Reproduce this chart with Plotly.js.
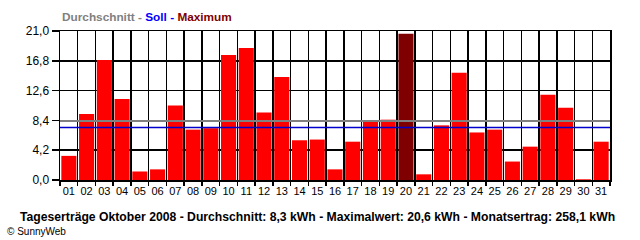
<!DOCTYPE html>
<html>
<head>
<meta charset="utf-8">
<script src="https://cdn.plot.ly/plotly-3.0.1.min.js"></script>
<style>html,body{margin:0;padding:0;background:#fff;}#chart{width:640px;height:240px;}</style>
</head>
<body>
<div id="chart"></div>
<script>
const days = ["01","02","03","04","05","06","07","08","09","10","11","12","13","14","15","16","17","18","19","20","21","22","23","24","25","26","27","28","29","30","31"];
const yields = [3.4,9.3,16.9,11.4,1.2,1.5,10.5,7.1,7.3,17.6,18.6,9.5,14.5,5.6,5.7,1.5,5.4,8.4,8.5,20.6,0.8,7.7,15.1,6.7,7.1,2.6,4.7,12.0,10.2,0.1,5.4];
const average = 8.3;
const target = 7.4;
const yTicks = [0, 4.2, 8.4, 12.6, 16.8, 21.0];
const titleText = "Tageserträge Oktober 2008 - Durchschnitt: 8,3 kWh - Maximalwert: 20,6 kWh - Monatsertrag: 258,1 kWh";

const maxVal = Math.max(...yields);
const colors = yields.map(v => v === maxVal ? "#7f0000" : "#ff0000");

const font = "Liberation Sans, Arial, sans-serif";

const data = [{
  type: "bar",
  x: days,
  y: yields,
  marker: {color: colors, line: {width: 0}},
  hoverinfo: "x+y"
}];

const layout = {
  width: 640, height: 240,
  margin: {l: 60, r: 30, t: 30.5, b: 59.5},
  paper_bgcolor: "#ffffff",
  plot_bgcolor: "#ffffff",
  separators: ",.",
  bargap: 0.15,
  showlegend: false,
  font: {family: font, size: 11, color: "#000"},
  xaxis: {
    type: "category",
    tickson: "boundaries",
    tickangle: 0,
    showgrid: true, gridcolor: "#000", gridwidth: 1.5,
    ticks: "outside", ticklen: 4, tickwidth: 1.5, tickcolor: "#000",
    showline: true, linecolor: "#000", linewidth: 1.5, mirror: true,
    tickfont: {family: font, size: 11, color: "#000"},
    fixedrange: true
  },
  yaxis: {
    range: [0, 21],
    tickvals: yTicks,
    tickformat: ".1f",
    showgrid: true, gridcolor: "#000", gridwidth: 1.5,
    zeroline: false,
    ticks: "outside", ticklen: 7, tickwidth: 1.5, tickcolor: "#000",
    showline: true, linecolor: "#000", linewidth: 1.5, mirror: true,
    tickfont: {family: font, size: 12, color: "#000"},
    fixedrange: true
  },
  shapes: [
    {type: "line", xref: "paper", x0: 0, x1: 1, yref: "y", y0: average, y1: average,
     line: {color: "#808080", width: 2}, layer: "above"},
    {type: "line", xref: "paper", x0: 0, x1: 1, yref: "y", y0: target, y1: target,
     line: {color: "#0000cc", width: 1.5}, layer: "above"}
  ],
  annotations: [
    {xref: "paper", yref: "paper", x: 0, y: 1.097, xanchor: "left", yanchor: "middle", showarrow: false,
     text: "<b><span style='color:#808080'>Durchschnitt - </span><span style='color:#0000ff'>Soll - </span><span style='color:#800000'>Maximum</span></b>",
     font: {family: font, size: 11.8}},
    {xref: "paper", yref: "paper", x: 0.468, y: -0.25, xanchor: "center", yanchor: "middle", showarrow: false,
     text: "<b>" + titleText + "</b>", font: {family: font, size: 12.2, color: "#000"}},
    {xref: "paper", yref: "paper", x: -0.1, y: -0.343, xanchor: "left", yanchor: "middle", showarrow: false,
     text: "© SunnyWeb", font: {family: font, size: 10, color: "#000"}}
  ]
};

Plotly.newPlot("chart", data, layout, {displayModeBar: false, staticPlot: true});
</script>
</body>
</html>
